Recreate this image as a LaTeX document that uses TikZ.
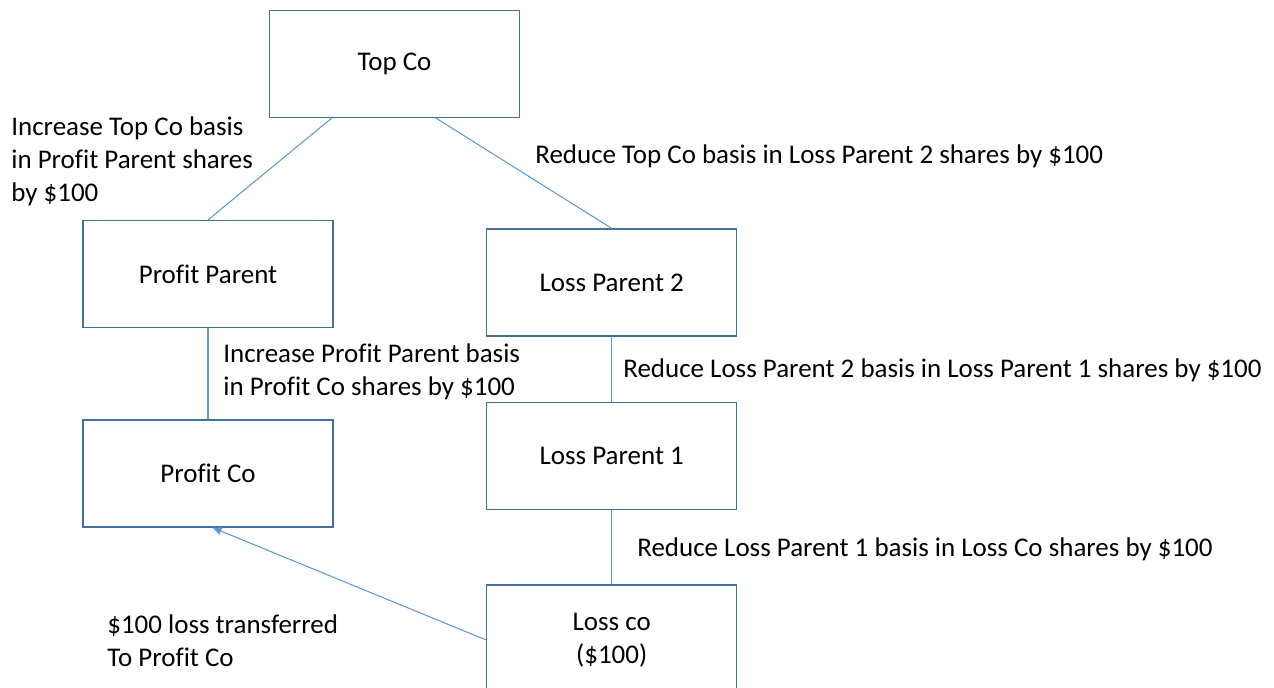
\documentclass[tikz,border=0pt]{standalone}
\usepackage{fontspec}
\setmainfont{Carlito}[Ligatures=CommonOff]
\usetikzlibrary{arrows.meta, positioning, calc}
\definecolor{boxblue}{HTML}{41719C}
\definecolor{lineblue}{HTML}{5B9BD5}

\begin{document}
\begin{tikzpicture}[x=0.02cm, y=-0.02cm, every node/.style={font=\fontsize{15.35}{18.8}\selectfont},
  box/.style={draw=boxblue, line width=0.7pt, fill=white, minimum width=5cm, minimum height=2.14cm, align=center},
  note/.style={anchor=west, inner sep=0pt, align=left},
  link/.style={draw=lineblue, line width=0.6pt}]
  \useasboundingbox (0,0) rectangle (1274,688);
  \node[box] (top) at (394.5,64) {Top Co};
  \node[box] (pp) at (208,274) {Profit Parent};
  \node[box] (lp2) at (611.7,282.5) {Loss Parent 2};
  \node[box] (lp1) at (611.7,456) {Loss Parent 1};
  \node[box] (pc) at (208,473.5) {Profit Co};
  \node[box, minimum height=2.2cm] (lc) at (611.7,640) {Loss co\\(\$100)};

  \draw[link] ($(top.south west)!0.25!(top.south east)$) -- (pp.north);
  \draw[link] ($(top.south west)!0.665!(top.south east)$) -- (lp2.north);
  \draw[link] (pp) -- (pc);
  \draw[link] (lp2) -- (lp1);
  \draw[link] (lp1) -- (lc);
  \draw[link, -{Triangle[length=1.8mm, width=1.5mm]}] (lc.west) -- ([xshift=0.09cm]pc.south);

  \node[note] (n1) at (11,161) {Increase Top Co basis\\in Profit Parent shares\\by \$100};
  \node[note] (n2) at (535,156) {Reduce Top Co basis in Loss Parent 2 shares by \$100};
  \node[note] (n3) at (223,372) {Increase Profit Parent basis\\in Profit Co shares by \$100};
  \node[note] (n4) at (623,370) {Reduce Loss Parent 2 basis in Loss Parent 1 shares by \$100};
  \node[note] (n5) at (637,549) {Reduce Loss Parent 1 basis in Loss Co shares by \$100};
  \node[note] (n6) at (107,641) {\$100 loss transferred\\To Profit Co};
\end{tikzpicture}
\end{document}
